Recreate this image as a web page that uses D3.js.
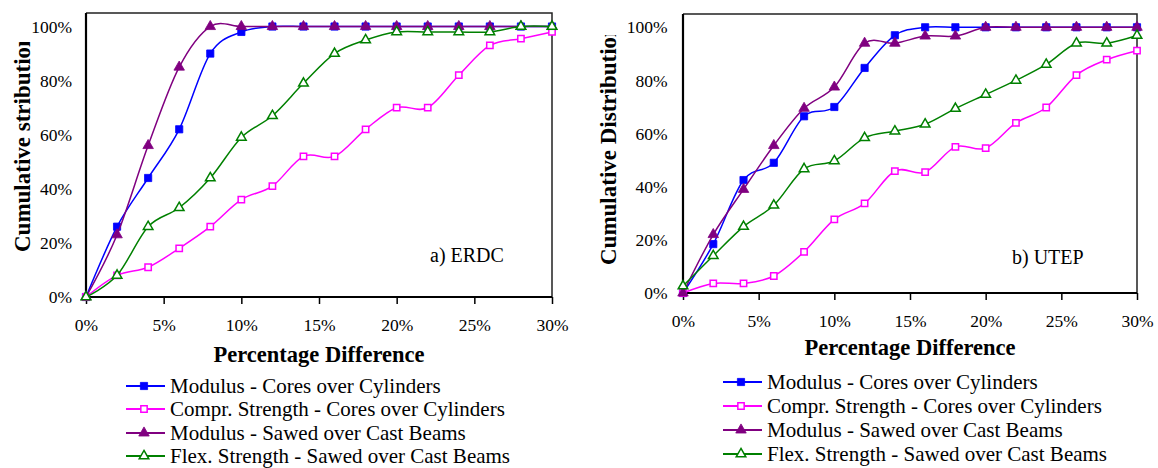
<!DOCTYPE html>
<html>
<head>
<meta charset="utf-8">
<script src="https://cdn.jsdelivr.net/npm/d3@7"></script>
</head>
<body style="margin:0">
<svg id="chart" width="1158" height="468" font-family="Liberation Serif" style="display:block"></svg>
<script>
// Percentage difference (x, in %)
const pctDiff = [0, 2, 4, 6, 8, 10, 12, 14, 16, 18, 20, 22, 24, 26, 28, 30];
const xTicks = [0, 5, 10, 15, 20, 25, 30];
const yTicks = [0, 20, 40, 60, 80, 100];

const seriesNames = [
  "Modulus - Cores over Cylinders",
  "Compr. Strength - Cores over Cylinders",
  "Modulus - Sawed over Cast Beams",
  "Flex. Strength - Sawed over Cast Beams"
];

// a) ERDC cumulative distribution (%)
const erdcModulusCores   = [0, 26, 44, 62, 90, 98, 100, 100, 100, 100, 100, 100, 100, 100, 100, 100];
const erdcComprCores     = [0, 8, 11, 18, 26, 36, 41, 52, 52, 62, 70, 70, 82, 93, 95.5, 98];
const erdcModulusBeams   = [0, 23, 56, 85, 100, 100, 100, 100, 100, 100, 100, 100, 100, 100, 100, 100];
const erdcFlexBeams      = [0, 8, 26, 33, 44, 59, 67, 79, 90, 95, 98, 98, 98, 98, 100, 100];

// b) UTEP cumulative distribution (%)
const utepModulusCores   = [0, 18.4, 42.5, 49, 66.5, 70, 84.7, 97, 100, 100, 100, 100, 100, 100, 100, 100];
const utepComprCores     = [0, 3.6, 3.6, 6.4, 15.5, 27.7, 33.7, 45.9, 45.5, 55, 54.5, 64, 69.8, 82, 87.8, 91.2];
const utepModulusBeams   = [0, 22, 39, 55.5, 69.5, 77.5, 94, 94, 96.7, 96.7, 100, 100, 100, 100, 100, 100];
const utepFlexBeams      = [2.6, 14, 25, 33, 46.7, 49.7, 58.4, 60.9, 63.5, 69.4, 74.7, 80, 86, 94, 94, 96.9];

const FONT = "Liberation Serif";

// Series styling: colour, marker shape, filled or hollow
const styles = [
  { color: "#0000ff", shape: "square",   filled: true  },
  { color: "#ff00ff", shape: "square",   filled: false },
  { color: "#800080", shape: "triangle", filled: true  },
  { color: "#008000", shape: "triangle", filled: false }
];

const panels = [
  {
    label: "a) ERDC",
    yTitle: "Cumulative stribution",
    series: [erdcModulusCores, erdcComprCores, erdcModulusBeams, erdcFlexBeams],
    left: 86, right: 552, top: 13, bottom: 297,
    xLabelPad: 14.5, yLabelPad: 14,
    xTitleY: 362, yTitleX: 30, yTitleStart: 252, yTitleClip: 42,
    labelX: 430, labelY: 262,
    legendX: 126, legendY: [386, 409, 433, 456]
  },
  {
    label: "b) UTEP",
    yTitle: "Cumulative Distribution",
    series: [utepModulusCores, utepComprCores, utepModulusBeams, utepFlexBeams],
    left: 683, right: 1137, top: 14, bottom: 293,
    xLabelPad: 15, yLabelPad: 15.5,
    xTitleY: 355, yTitleX: 616, yTitleStart: 265, yTitleClip: 35,
    labelX: 1012, labelY: 264,
    legendX: 723, legendY: [382, 406, 430, 454]
  }
];

const svg = d3.select("#chart");
const defs = svg.append("defs");

function marker(sel, st) {
  const size = st.shape === "square" ? (st.filled ? 52 : 40) : (st.filled ? 48 : 40);
  const type = st.shape === "square" ? d3.symbolSquare : d3.symbolTriangle;
  sel.attr("d", d3.symbol().type(type).size(size)())
     .attr("fill", st.filled ? st.color : "#fff")
     .attr("stroke", st.color)
     .attr("stroke-width", st.filled ? 0.8 : 1.5);
}

panels.forEach((p, pi) => {
  const g = svg.append("g");
  const x = d3.scaleLinear().domain([0, 30]).range([p.left, p.right]);
  const y = d3.scaleLinear().domain([0, 105]).range([p.bottom, p.top]);

  // Frame (top and right)
  g.append("path")
    .attr("d", `M${p.left},${p.top}H${p.right}V${p.bottom}`)
    .attr("fill", "none").attr("stroke", "#222").attr("stroke-width", 1.5);

  // X axis
  const xAxis = d3.axisBottom(x).tickValues(xTicks).tickSize(7)
    .tickPadding(p.xLabelPad).tickFormat(d => d + "%");
  const xg = g.append("g").attr("transform", `translate(0,${p.bottom})`).call(xAxis)
    .attr("font-family", FONT);
  xg.select(".domain").remove();
  xg.selectAll(".tick line").attr("stroke", "#000").attr("stroke-width", 1.5);
  xg.selectAll("text").attr("font-size", 17.5).attr("font-family", FONT).attr("fill", "#000");

  // Y axis
  const yAxis = d3.axisLeft(y).tickValues(yTicks).tickSize(0)
    .tickPadding(p.yLabelPad).tickFormat(d => d + "%");
  const yg = g.append("g").attr("transform", `translate(${p.left},0)`).call(yAxis)
    .attr("font-family", FONT);
  yg.select(".domain").remove();
  yg.selectAll("text").attr("font-size", 17.5).attr("font-family", FONT).attr("fill", "#000");

  // Axis lines
  g.append("path")
    .attr("d", `M${p.left},${p.top}V${p.bottom}H${p.right}`)
    .attr("fill", "none").attr("stroke", "#000").attr("stroke-width", 2.2);

  // Series lines and markers
  const line = d3.line()
    .x((d, i) => x(pctDiff[i]))
    .y(d => y(d))
    .curve(d3.curveCardinal.tension(0));

  p.series.forEach((vals, si) => {
    const st = styles[si];
    g.append("path").datum(vals)
      .attr("d", line)
      .attr("fill", "none")
      .attr("stroke", st.color)
      .attr("stroke-width", 1.5);
    g.selectAll(null).data(vals).join("path")
      .attr("transform", (d, i) => `translate(${x(pctDiff[i])},${y(d)})`)
      .call(marker, st);
  });

  // Panel label
  g.append("text").attr("x", p.labelX).attr("y", p.labelY)
    .attr("font-size", 20).attr("font-family", FONT).text(p.label);

  // Axis titles
  g.append("text")
    .attr("x", (p.left + p.right) / 2).attr("y", p.xTitleY)
    .attr("text-anchor", "middle").attr("font-size", 22.5).attr("font-weight", "bold")
    .attr("font-family", FONT)
    .text("Percentage Difference");

  const clipId = "ytclip" + pi;
  defs.append("clipPath").attr("id", clipId).append("rect")
    .attr("x", p.yTitleX - 30).attr("y", p.yTitleClip)
    .attr("width", 40).attr("height", 300);
  g.append("g").attr("clip-path", `url(#${clipId})`)
    .append("text")
    .attr("transform", `translate(${p.yTitleX},${p.yTitleStart}) rotate(-90)`)
    .attr("font-size", 23).attr("font-weight", "bold")
    .attr("font-family", FONT)
    .text(p.yTitle);

  // Legend
  seriesNames.forEach((name, si) => {
    const st = styles[si];
    const ly = p.legendY[si];
    g.append("line")
      .attr("x1", p.legendX).attr("x2", p.legendX + 39)
      .attr("y1", ly).attr("y2", ly)
      .attr("stroke", st.color).attr("stroke-width", 1.8);
    g.append("path").attr("transform", `translate(${p.legendX + 18},${ly})`).call(marker, st);
    g.append("text")
      .attr("x", p.legendX + 44).attr("y", ly + 7)
      .attr("font-size", 21).attr("font-family", FONT).text(name);
  });
});
</script>
</body>
</html>
